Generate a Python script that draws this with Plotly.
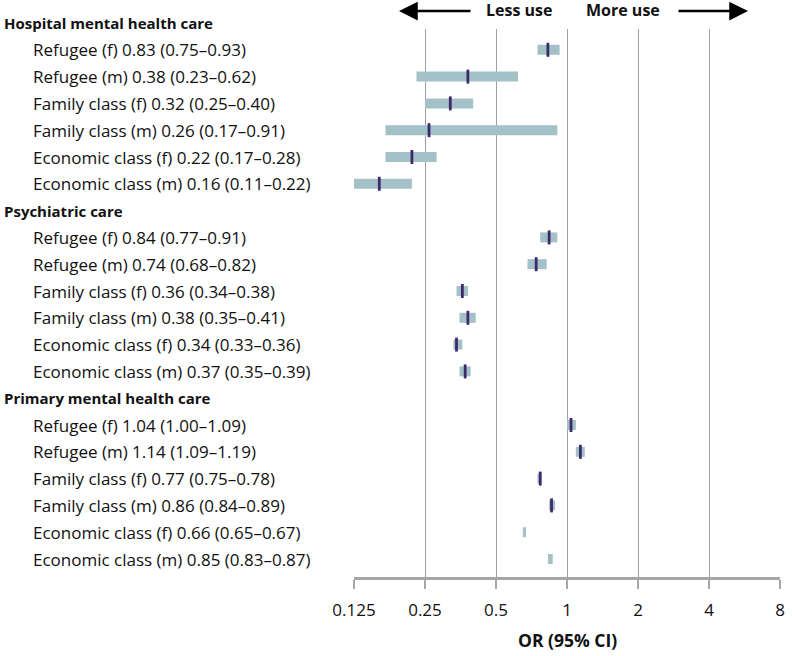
import math
import plotly.graph_objects as go

groups = ["Hospital mental health care", "Psychiatric care", "Primary mental health care"]
subgroups = ["Refugee (f)", "Refugee (m)", "Family class (f)", "Family class (m)",
             "Economic class (f)", "Economic class (m)"]

est = [
    [0.83, 0.38, 0.32, 0.26, 0.22, 0.16],
    [0.84, 0.74, 0.36, 0.38, 0.34, 0.37],
    [1.04, 1.14, 0.77, 0.86, 0.66, 0.85],
]
lo = [
    [0.75, 0.23, 0.25, 0.17, 0.17, 0.11],
    [0.77, 0.68, 0.34, 0.35, 0.33, 0.35],
    [1.00, 1.09, 0.75, 0.84, 0.65, 0.83],
]
hi = [
    [0.93, 0.62, 0.40, 0.91, 0.28, 0.22],
    [0.91, 0.82, 0.38, 0.41, 0.36, 0.39],
    [1.09, 1.19, 0.78, 0.89, 0.67, 0.87],
]
# point-estimate tick drawn in the reference?
mark_shown = [
    [True] * 6,
    [True] * 6,
    [True, True, True, True, False, False],
]

tick_vals = [0.125, 0.25, 0.5, 1, 2, 4, 8]
tick_text = ["0.125", "0.25", "0.5", "1", "2", "4", "8"]

W, H = 792, 656
PL, PR, PT, PB = 354, 780, 29, 577
ROW0, ROWSTEP = 23.0, 26.8

FONT = "Open Sans"
BAR_C = "#a3c1c7"
MARK_C = "#3b2b6b"
GRID_C = "#a0a0a0"
TXT_C = "#111111"


def px(pix):
    return (pix - PL) / (PR - PL)


def py(pix):
    return (PB - pix) / (PB - PT)


fig = go.Figure()

bx, by, mx, my = [], [], [], []
annotations = []
row = 0
for g, gname in enumerate(groups):
    annotations.append(dict(text="<b>%s</b>" % gname, x=px(2), xref="paper",
                            y=py(ROW0 + row * ROWSTEP), yref="paper",
                            xanchor="left", yanchor="middle", showarrow=False,
                            font=dict(family=FONT, size=15, color=TXT_C)))
    row += 1
    for s, sname in enumerate(subgroups):
        e, l, h = est[g][s], lo[g][s], hi[g][s]
        label = "%s %.2f (%.2f\u2013%.2f)" % (sname, e, l, h)
        annotations.append(dict(text=label, x=px(31), xref="paper",
                                y=py(ROW0 + row * ROWSTEP), yref="paper",
                                xanchor="left", yanchor="middle", showarrow=False,
                                font=dict(family=FONT, size=17, color=TXT_C)))
        bx += [l, h, None]
        by += [row, row, None]
        if mark_shown[g][s]:
            mx.append(e)
            my.append(row)
        row += 1

fig.add_trace(go.Scatter(x=bx, y=by, mode="lines", line=dict(color=BAR_C, width=10),
                         hoverinfo="skip", showlegend=False))
fig.add_trace(go.Scatter(x=mx, y=my, mode="markers",
                         marker=dict(symbol="line-ns", size=10, line=dict(color=MARK_C, width=2.8)),
                         hoverinfo="skip", showlegend=False))

y_bottom = (PB - ROW0) / ROWSTEP
y_top = (PT - ROW0) / ROWSTEP

# reference line at OR = 1
fig.add_shape(type="line", xref="x", yref="paper", x0=0, x1=0, y0=-13 / (PB - PT), y1=1,
              line=dict(color="#a6a6a6", width=3.5), layer="above")

# direction arrows
annotations.append(dict(x=px(399), y=py(11), xref="paper", yref="paper", text="",
                        showarrow=True, ax=73, ay=0, arrowhead=2, arrowsize=1.5,
                        arrowwidth=2.5, arrowcolor="#000", standoff=0))
annotations.append(dict(x=px(748), y=py(11), xref="paper", yref="paper", text="",
                        showarrow=True, ax=-71, ay=0, arrowhead=2, arrowsize=1.5,
                        arrowwidth=2.5, arrowcolor="#000", standoff=0))
annotations.append(dict(x=px(554), y=py(10), xref="paper", yref="paper", text="<b>Less use</b>",
                        xanchor="right", yanchor="middle", showarrow=False,
                        font=dict(family=FONT, size=16, color=TXT_C)))
annotations.append(dict(x=px(584), y=py(10), xref="paper", yref="paper", text="<b>More use</b>",
                        xanchor="left", yanchor="middle", showarrow=False,
                        font=dict(family=FONT, size=16, color=TXT_C)))
annotations.append(dict(x=0, y=py(640), xref="x", yref="paper", text="<b>OR (95% CI)</b>",
                        xanchor="center", yanchor="middle", showarrow=False,
                        font=dict(family=FONT, size=17.5, color=TXT_C)))

fig.update_layout(
    width=W, height=H,
    margin=dict(l=PL, r=W - PR, t=PT, b=H - PB, pad=0, autoexpand=False),
    paper_bgcolor="white", plot_bgcolor="white",
    showlegend=False,
    annotations=annotations,
    xaxis=dict(type="log", automargin=False,
               range=[math.log10(tick_vals[0]), math.log10(tick_vals[-1])],
               tickvals=tick_vals, ticktext=tick_text,
               showgrid=True, gridcolor=GRID_C, gridwidth=1,
               showline=True, linecolor="#a6a6a6", linewidth=3,
               ticks="outside", ticklen=9, tickwidth=1.5, tickcolor="#a6a6a6",
               ticklabelstandoff=7,
               tickfont=dict(family=FONT, size=17, color=TXT_C),
               zeroline=False, fixedrange=True),
    yaxis=dict(range=[y_bottom, y_top], showgrid=False, zeroline=False, automargin=False,
               showticklabels=False, showline=False, ticks="", fixedrange=True),
)

fig.write_html("out.html")
